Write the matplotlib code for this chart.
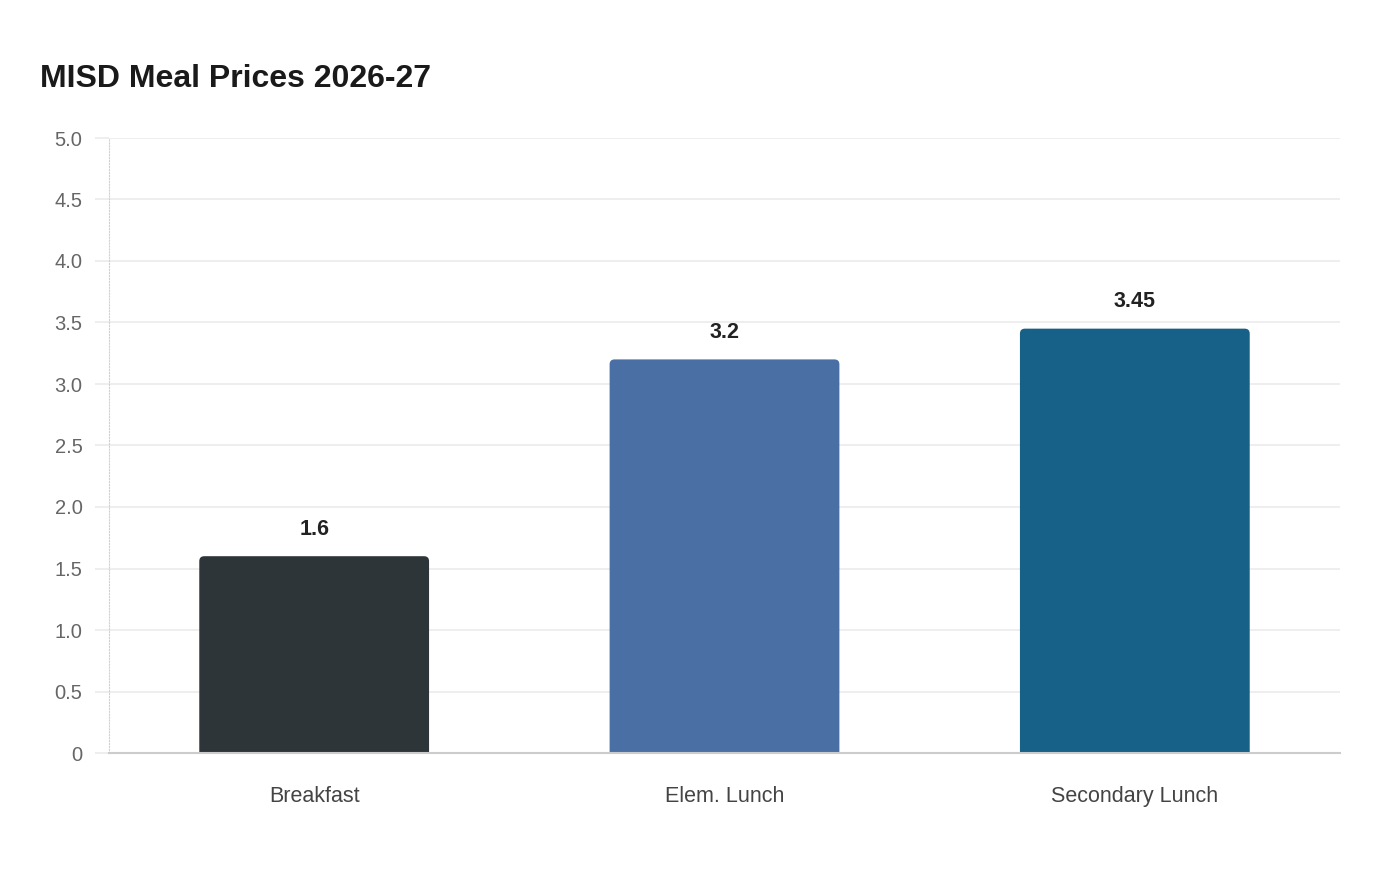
import matplotlib
matplotlib.use("Agg")
import matplotlib.pyplot as plt
from matplotlib.patches import PathPatch
from matplotlib.path import Path
from matplotlib.ticker import FuncFormatter, MultipleLocator

plt.rcParams['font.family'] = ['Liberation Sans', 'DejaVu Sans']

# ---- data ----
categories = ["Breakfast", "Elem. Lunch", "Secondary Lunch"]
prices = [1.6, 3.2, 3.45]
bar_colors = ["#2e3538", "#4a6fa5", "#176087"]
title = "MISD Meal Prices 2026-27"

fig = plt.figure(figsize=(14, 8.8), dpi=100)
ax = fig.add_axes([109/1400, 127/880, 1231/1400, 615/880])

x = range(len(categories))
width = 0.56
bars = ax.bar(x, prices, width=width, color="none", edgecolor="none")
ax.set_xlim(-0.5, len(categories) - 0.5)
ax.set_ylim(0, 5.0)

# 只圆顶部两个角:按像素换算半径
bb = ax.get_window_extent(renderer=fig.canvas.get_renderer())
rx = 5 * len(categories) / bb.width
ry = 5 * 5.0 / bb.height
for b, c in zip(bars, bar_colors):
    x0, w, h = b.get_x(), b.get_width(), b.get_height()
    x1 = x0 + w
    verts = [(x0, 0), (x0, h - ry), (x0, h), (x0 + rx, h),
             (x1 - rx, h), (x1, h), (x1, h - ry), (x1, 0), (x0, 0)]
    codes = [Path.MOVETO, Path.LINETO, Path.CURVE3, Path.CURVE3,
             Path.LINETO, Path.CURVE3, Path.CURVE3, Path.LINETO, Path.CLOSEPOLY]
    ax.add_patch(PathPatch(Path(verts, codes), fc=c, ec="none", zorder=3))
    ax.annotate(f"{h:g}", (x0 + w / 2, h), xytext=(0, 12),
                textcoords="offset points", ha="center", va="bottom",
                fontsize=15.5, fontweight="bold", color="#222222")

ax.yaxis.set_major_locator(MultipleLocator(0.5))
ax.yaxis.set_major_formatter(FuncFormatter(lambda v, p: "0" if v == 0 else f"{v:.1f}"))
ax.set_xticks(list(x))
ax.set_xticklabels(categories)
ax.grid(axis="y", color="#ebebeb", linewidth=1.2, zorder=0)
ax.set_axisbelow(True)
ax.tick_params(axis="y", length=10, color="#ebebeb", width=1.2, labelsize=14.5,
               labelcolor="#666666", pad=9)
ax.tick_params(axis="x", length=0, labelsize=15.5, labelcolor="#444444", pad=24)

for s in ["top", "right"]:
    ax.spines[s].set_visible(False)
ax.spines["left"].set_color("#d0d0d0")
ax.spines["left"].set_linewidth(0.8)
ax.spines["left"].set_linestyle(":")
ax.spines["bottom"].set_color("#cccccc")
ax.spines["bottom"].set_linewidth(1.5)
ax.spines["bottom"].set_zorder(4)

fig.text(40/1400, 1 - 79/880, title, fontsize=23, fontweight="bold",
         color="#1a1a1a", ha="left", va="center")

fig.savefig("out.png", dpi=100, facecolor="white")
